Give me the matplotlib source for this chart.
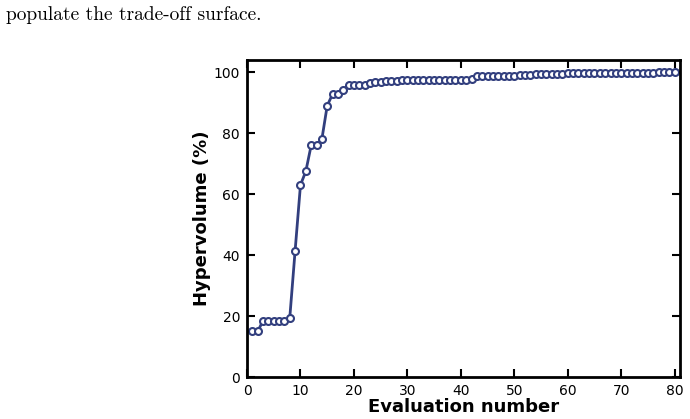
import matplotlib
matplotlib.use('Agg')
import matplotlib.pyplot as plt
import numpy as np

evals = np.arange(1, 81)
hv = [15.0, 15.0, 18.5, 18.5, 18.5, 18.5, 18.5, 19.5, 41.5, 63.0,
      67.5, 76.0, 76.0, 78.0, 89.0, 92.8, 93.0, 94.3, 95.8, 95.8,
      95.8, 95.9, 96.4, 96.7, 96.9, 97.0, 97.1, 97.2, 97.3, 97.3,
      97.3, 97.4, 97.4, 97.4, 97.5, 97.5, 97.5, 97.5, 97.5, 97.5,
      97.6, 97.7, 98.7, 98.7, 98.7, 98.7, 98.7, 98.7, 98.7, 98.8,
      99.2, 99.2, 99.2, 99.3, 99.3, 99.4, 99.4, 99.5, 99.5, 99.6,
      99.6, 99.6, 99.6, 99.7, 99.7, 99.7, 99.7, 99.8, 99.8, 99.8,
      99.8, 99.9, 99.9, 99.9, 99.9, 99.9, 100.0, 100.0, 100.0, 100.0]

fig = plt.figure(figsize=(6.9, 4.19), dpi=100)
fig.text(0.009, 0.965, 'populate the trade-off surface.', family='cmr10',
         fontsize=14, va='center', ha='left')

ax = fig.add_axes([0.358, 0.100, 0.6275, 0.7568])
ax.plot(evals, hv, '-o', color='#323f7e', lw=2, ms=5,
        mfc='white', mec='#323f7e', mew=1.5)
ax.set_xlim(0, 81)
ax.set_ylim(0, 104)
ax.set_xticks(np.arange(0, 81, 10))
ax.set_yticks(np.arange(0, 101, 20))
ax.tick_params(direction='in', top=True, right=True, length=6, width=1.5,
               labelsize=10, pad=5)
for s in ax.spines.values():
    s.set_linewidth(2)
ax.set_xlabel('Evaluation number', fontsize=13, fontweight='bold', labelpad=0)
ax.set_ylabel('Hypervolume (%)', fontsize=13, fontweight='bold', labelpad=2)

fig.savefig('out.png', dpi=100)
